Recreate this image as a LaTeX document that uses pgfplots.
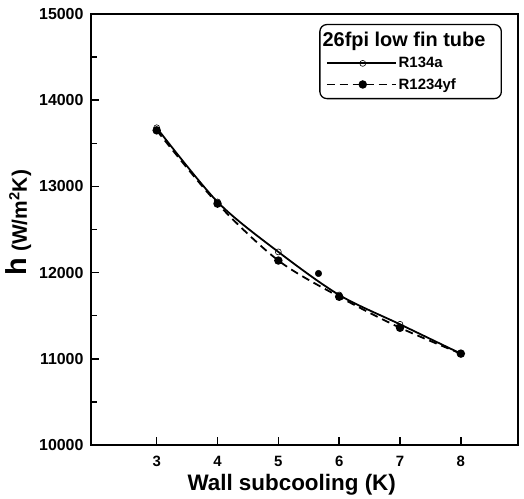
\documentclass[border=0pt]{standalone}
\usepackage{pgfplots}
\pgfplotsset{compat=1.18}
\usepackage{fontspec}
\setmainfont{Liberation Sans}
\begin{document}
\begin{tikzpicture}
\begin{axis}[
  scale only axis,
  width=427bp, height=431bp,
  xmin=1.92, xmax=8.94,
  ymin=10000, ymax=15000,
  xtick={3,4,5,6,7,8},
  ytick={10000,11000,...,15000},
  minor ytick={10500,11500,...,14500},
  tick align=inside,
  xtick pos=bottom, ytick pos=left,
  major tick length=8bp, minor tick length=6bp,
  every tick/.style={black, line width=1.5pt},
  axis line style={line width=1.6pt},
  scaled y ticks=false,
  /pgf/number format/assume math mode=true,
  yticklabel style={/pgf/number format/1000 sep={}, font=\fontsize{16}{16}\bfseries, xshift=-4bp},
  xticklabel style={font=\fontsize{15}{15}\bfseries, yshift=-8bp},
  xlabel={Wall subcooling (K)},
  xlabel style={font=\fontsize{22.5}{22.5}\bfseries, at={(axis description cs:0.47,0)}, anchor=base, yshift=-45bp},
  ylabel={{\fontsize{29}{29}\selectfont h\fontsize{21}{21}\selectfont\ (W/m\textsuperscript{2}K)}},
  ylabel style={font=\bfseries, at={(axis description cs:-0.150,0.516)}, anchor=base, rotate=0},
  legend style={at={(0.9625,0.977)}, anchor=north east, rounded corners=7pt,
    line width=1.3pt, font=\fontsize{15}{15}\bfseries, inner xsep=6pt, inner ysep=6pt,
    row sep=5pt, cells={anchor=west}},
  legend cell align=left,
  legend image code/.code={%
    \draw[mark repeat=2, mark phase=2, line width=1.8pt, #1] plot coordinates {(0bp,0bp) (36bp,0bp) (69bp,0bp)};},
]
\addlegendimage{empty legend}
\addlegendentry{\hspace*{-76bp}\fontsize{20}{20}\selectfont 26fpi low fin tube\hspace*{8bp}}
\addplot[black, line width=1.8pt, smooth, mark=o, mark size=3pt,
  mark options={solid, line width=0.6pt, fill=white}] coordinates {
  (3,13680) (4,12820) (5,12240) (6,11740) (7,11400) (8,11060)
};
\addlegendentry{R134a}
\addplot[black, line width=1.8pt, dash pattern=on 8pt off 5pt, smooth,
  mark=*, mark size=3.3pt, mark options={solid}] coordinates {
  (3,13650) (4,12800) (5,12140) (6,11720) (7,11360) (8,11060)
};
\addlegendentry{R1234yf}
\addplot[only marks, black, mark=*, mark size=3.3pt, forget plot] coordinates {
  (5.66,11990)
};
\end{axis}
\path ([xshift=-91bp,yshift=-54bp]current axis.south west) rectangle ([xshift=6bp,yshift=14bp]current axis.north east);
\end{tikzpicture}
\end{document}
